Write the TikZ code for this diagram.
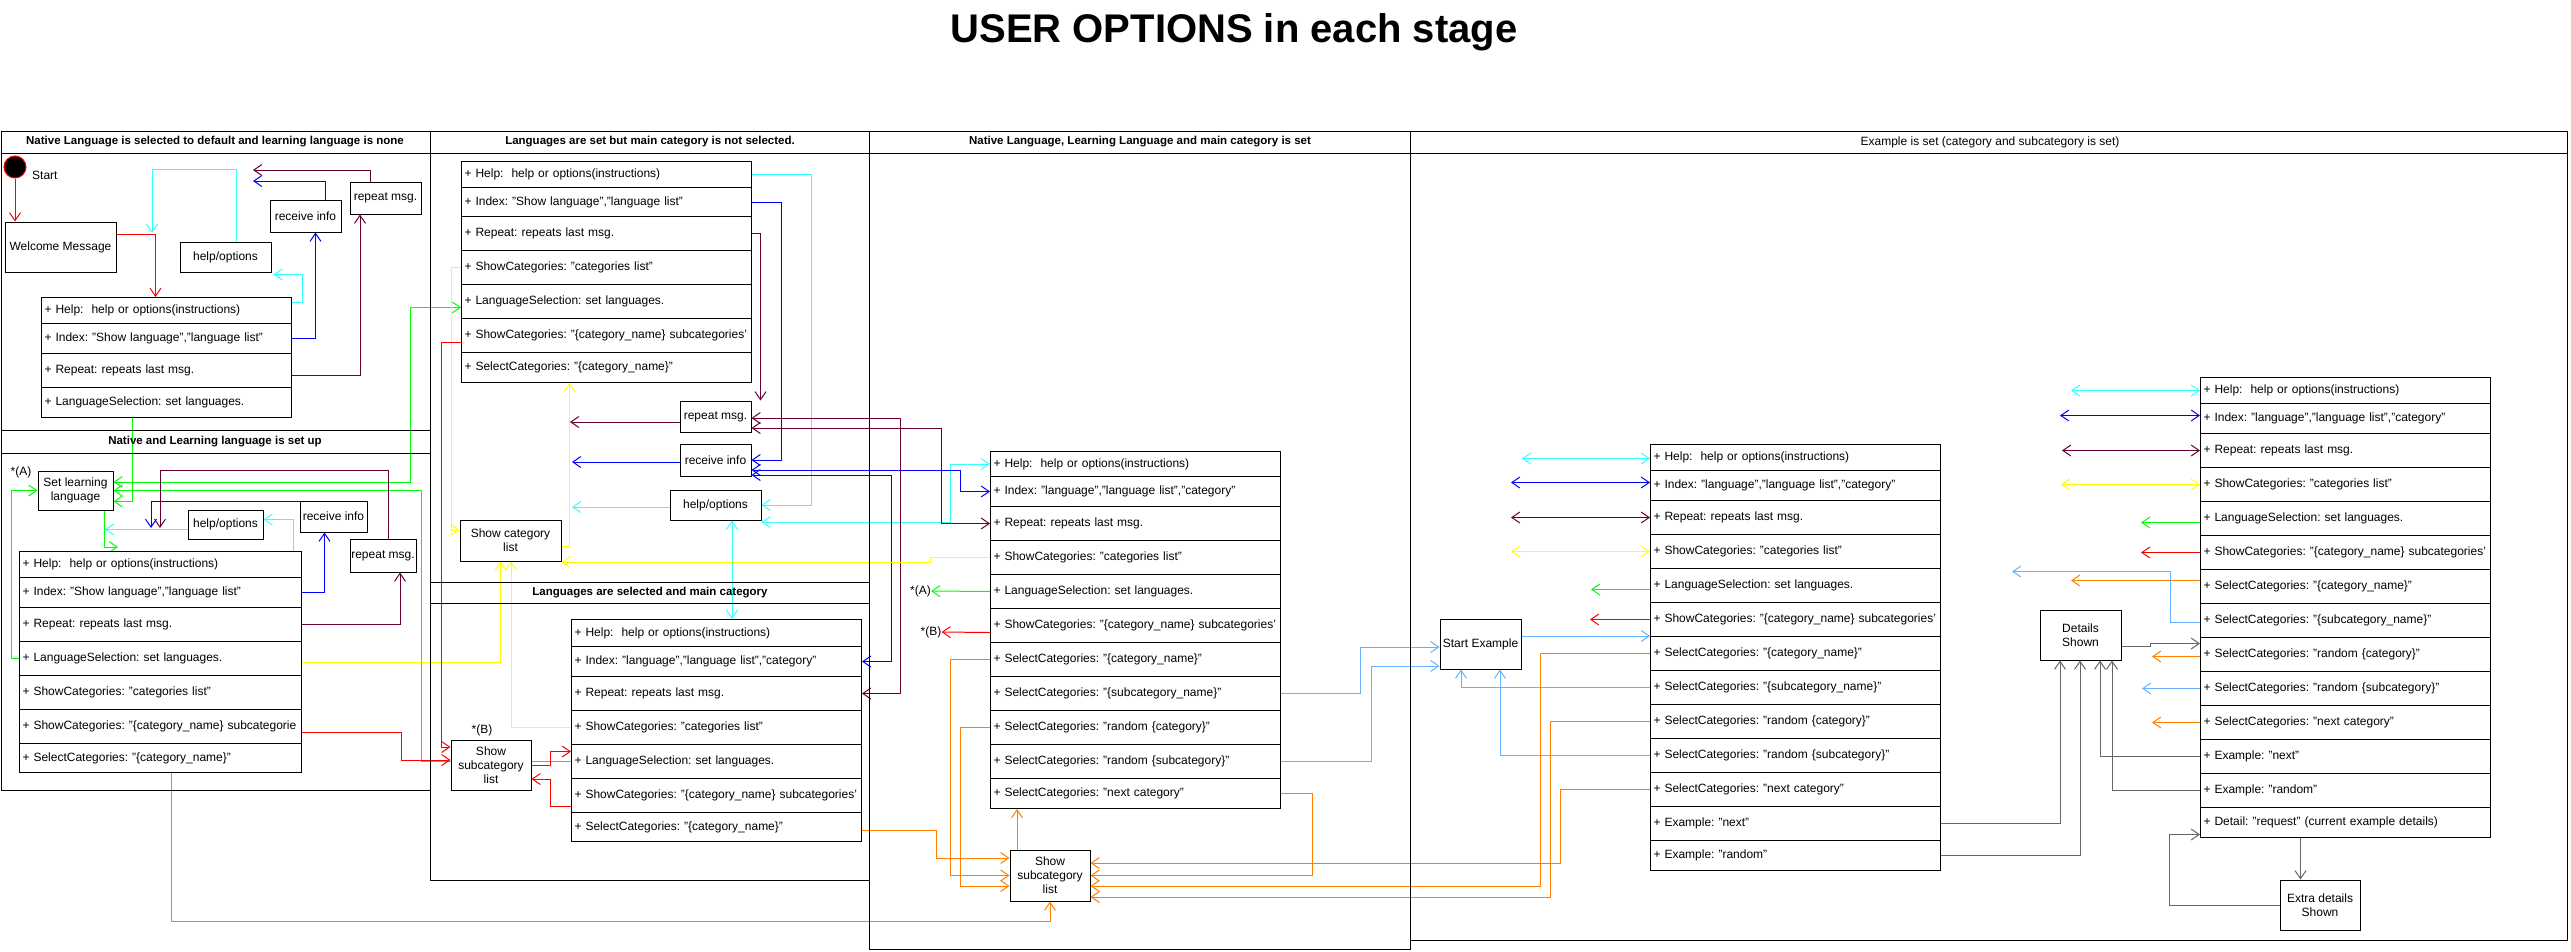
\documentclass[tikz,border=0pt]{standalone}
\usepackage{fontspec}
\setmainfont{Liberation Sans}
\usetikzlibrary{arrows.meta}
\definecolor{helpcolor}{HTML}{33FFFF}
\definecolor{indexcolor}{HTML}{0000FF}
\definecolor{repeatcolor}{HTML}{660033}
\definecolor{showcolor}{HTML}{FFFF00}
\definecolor{langcolor}{HTML}{00FF00}
\definecolor{subcolor}{HTML}{FF0000}
\definecolor{selectcolor}{HTML}{FF8000}
\definecolor{examplecolor}{HTML}{66B2FF}
\definecolor{detailcolor}{HTML}{666666}
\newcommand{\rowfont}{\fontsize{12}{14}\selectfont}
\newcommand{\headfont}{\fontsize{11.5}{13}\selectfont\bfseries}
\pgfdeclarelayer{wires}
\pgfsetlayers{wires,main}
\tikzset{
  stage/.style={draw, line width=1pt},
  head/.style={font=\headfont, inner sep=0pt},
  row/.style={draw, fill=white, line width=1pt, anchor=north west, inner xsep=3pt, inner ysep=0pt,
    text width=284pt, minimum height=34pt, align=left, font=\rowfont,
    execute at begin node={\hyphenpenalty=10000\relax}},
  state/.style={draw, fill=white, line width=1pt, inner sep=0.5pt, align=center, font=\rowfont},
  refmark/.style={font=\rowfont, inner sep=0pt},
  wire/.style={line width=1pt},
  flowwire/.style={wire, draw=subcolor},
  helpwire/.style={wire, draw=helpcolor},
  indexwire/.style={wire, draw=indexcolor},
  repeatwire/.style={wire, draw=repeatcolor},
  showwire/.style={wire, draw=showcolor},
  langwire/.style={wire, draw=langcolor},
  subwire/.style={wire, draw=subcolor},
  selectwire/.style={wire, draw=selectcolor},
  examplewire/.style={wire, draw=examplecolor},
  detailwire/.style={wire, draw=detailcolor}
}
\begin{document}
\frenchspacing
\begin{tikzpicture}[x=1pt, y=-1pt, >={Straight Barb[length=8pt,width=11pt]}]
\useasboundingbox (0,0) rectangle (2571,951);
\path (1234,42) node[anchor=base, font=\fontsize{40}{48}\selectfont\bfseries] (title) {USER OPTIONS in each stage};

\draw[stage] (1,131) rectangle (430,790);
\draw[stage] (1,153) -- (430,153);
\draw[stage] (1,430) -- (430,430);
\draw[stage] (1,453) -- (430,453);
\draw[stage] (430,131) rectangle (869,880);
\draw[stage] (430,153) -- (869,153);
\draw[stage] (430,582) -- (869,582);
\draw[stage] (430,603) -- (869,603);
\draw[stage] (869,131) rectangle (1410,949);
\draw[stage] (869,153) -- (1410,153);
\draw[stage] (1410,131) rectangle (2567,940);
\draw[stage] (1410,153) -- (2567,153);
\path (215,142) node[head] (hnone) {Native Language is selected to default and learning language is none};
\path (215,442) node[head] (hsetup) {Native and Learning language is set up};
\path (650,142) node[head] (hlang) {Languages are set but main category is not selected.};
\path (650,593) node[head] (hmain) {Languages are selected and main category};
\path (1140,142) node[head] (hcat) {Native Language, Learning Language and main category is set};
\path (1990,142) node[head, font=\rowfont] (hexample) {Example is set (category and subcategory is set)};

\path (15,167) node[circle, draw=subcolor, fill=black, line width=1pt, minimum size=22pt, inner sep=0pt] (start) {};
\path (32,175) node[refmark, anchor=west] (startlabel) {Start};
\path (60.5,247) node[state, minimum width=111pt, minimum height=50pt] (welcome) {Welcome Message};
\path (225.5,257) node[state, minimum width=91pt, minimum height=30pt] (nhop) {help/options};
\path (305.5,216) node[state, minimum width=71pt, minimum height=32pt] (ninfo) {receive info};
\path (385.5,198) node[state, minimum width=71pt, minimum height=32pt] (nrep) {repeat msg.};
\path (41,297) node[row, text width=244pt, minimum height=26pt] (nhelp) {+ Help:~ help or options(instructions)};
\path (41,323) node[row, text width=244pt, minimum height=30pt] (nindex) {+ Index: "Show language","language list"};
\path (41,353) node[row, text width=244pt] (nrepeat) {+ Repeat: repeats last msg.};
\path (41,387) node[row, text width=244pt, minimum height=30pt] (nlang) {+ LanguageSelection: set languages.};

\path (21,472) node[refmark] (marka) {*(A)};
\path (75.5,490.5) node[state, minimum width=75pt, minimum height=39pt] (setlang) {Set learning\\language};
\path (225.5,524.5) node[state, minimum width=75pt, minimum height=29pt] (uhop) {help/options};
\path (333.5,516.5) node[state, minimum width=67pt, minimum height=31pt] (uinfo) {receive info};
\path (383,555.5) node[state, minimum width=66pt, minimum height=33pt] (urep) {repeat msg.};
\path (19,551) node[row, text width=276pt, minimum height=26pt] (uhelp) {+ Help:~ help or options(instructions)};
\path (19,577) node[row, text width=276pt, minimum height=30pt] (uindex) {+ Index: "Show language","language list"};
\path (19,607) node[row, text width=276pt] (urepeat) {+ Repeat: repeats last msg.};
\path (19,641) node[row, text width=276pt] (ulang) {+ LanguageSelection: set languages.};
\path (19,675) node[row, text width=276pt] (ushow) {+ ShowCategories: "categories list"};
\path (19,709) node[row, text width=276pt] (usub) {+ ShowCategories: "\{category\_name\} subcategorie};
\path (19,743) node[row, text width=276pt, minimum height=29pt] (uselect) {+ SelectCategories: "\{category\_name\}"};

\path (461,161) node[row, minimum height=26pt] (lhelp) {+ Help:~ help or options(instructions)};
\path (461,187) node[row, minimum height=29pt] (lindex) {+ Index: "Show language","language list"};
\path (461,216) node[row] (lrepeat) {+ Repeat: repeats last msg.};
\path (461,250) node[row] (lshow) {+ ShowCategories: "categories list"};
\path (461,284) node[row] (llang) {+ LanguageSelection: set languages.};
\path (461,318) node[row] (lsub) {+ ShowCategories: "\{category\_name\} subcategories'};
\path (461,352) node[row, minimum height=30pt] (lselect) {+ SelectCategories: "\{category\_name\}"};
\path (715.5,416.5) node[state, minimum width=71pt, minimum height=31pt] (lrep) {repeat msg.};
\path (715.5,460) node[state, minimum width=71pt, minimum height=32pt] (linfo) {receive info};
\path (715.5,505) node[state, minimum width=91pt, minimum height=30pt] (lhop) {help/options};
\path (510.5,540.5) node[state, minimum width=101pt, minimum height=41pt] (catlist) {Show category\\list};

\path (482,730) node[refmark] (markb) {*(B)};
\path (491,765) node[state, minimum width=80pt, minimum height=50pt] (msublist) {Show\\subcategory\\list};
\path (571,619) node[row, minimum height=27pt] (mhelp) {+ Help:~ help or options(instructions)};
\path (571,646) node[row, minimum height=30pt] (mindex) {+ Index: "language","language list","category"};
\path (571,676) node[row] (mrepeat) {+ Repeat: repeats last msg.};
\path (571,710) node[row] (mshow) {+ ShowCategories: "categories list"};
\path (571,744) node[row] (mlang) {+ LanguageSelection: set languages.};
\path (571,778) node[row] (msub) {+ ShowCategories: "\{category\_name\} subcategories'};
\path (571,812) node[row, minimum height=29pt] (mselect) {+ SelectCategories: "\{category\_name\}"};

\path (990,451) node[row, minimum height=25pt] (chelp) {+ Help:~ help or options(instructions)};
\path (990,476) node[row, minimum height=30pt] (cindex) {+ Index: "language","language list","category"};
\path (990,506) node[row] (crepeat) {+ Repeat: repeats last msg.};
\path (990,540) node[row] (cshow) {+ ShowCategories: "categories list"};
\path (990,574) node[row] (clang) {+ LanguageSelection: set languages.};
\path (990,608) node[row] (csub) {+ ShowCategories: "\{category\_name\} subcategories'};
\path (990,642) node[row] (cselcat) {+ SelectCategories: "\{category\_name\}"};
\path (990,676) node[row] (cselsub) {+ SelectCategories: "\{subcategory\_name\}"};
\path (990,710) node[row] (crandcat) {+ SelectCategories: "random \{category\}"};
\path (990,744) node[row] (crandsub) {+ SelectCategories: "random \{subcategory\}"};
\path (990,778) node[row, minimum height=30pt] (cnext) {+ SelectCategories: "next category"};
\path (920.5,591) node[refmark] (refa) {*(A)};
\path (931,632) node[refmark] (refb) {*(B)};
\path (1050,875.5) node[state, minimum width=80pt, minimum height=51pt] (csublist) {Show\\subcategory\\list};

\path (1480.5,644) node[state, minimum width=81pt, minimum height=50pt] (exstart) {Start Example};
\path (1650,444) node[row, minimum height=26pt] (ehelp) {+ Help:~ help or options(instructions)};
\path (1650,470) node[row, minimum height=30pt] (eindex) {+ Index: "language","language list","category"};
\path (1650,500) node[row] (erepeat) {+ Repeat: repeats last msg.};
\path (1650,534) node[row] (eshow) {+ ShowCategories: "categories list"};
\path (1650,568) node[row] (elang) {+ LanguageSelection: set languages.};
\path (1650,602) node[row] (esub) {+ ShowCategories: "\{category\_name\} subcategories'};
\path (1650,636) node[row] (eselcat) {+ SelectCategories: "\{category\_name\}"};
\path (1650,670) node[row] (eselsub) {+ SelectCategories: "\{subcategory\_name\}"};
\path (1650,704) node[row] (erandcat) {+ SelectCategories: "random \{category\}"};
\path (1650,738) node[row] (erandsub) {+ SelectCategories: "random \{subcategory\}"};
\path (1650,772) node[row] (enextcat) {+ SelectCategories: "next category"};
\path (1650,806) node[row] (eexnext) {+ Example: "next"};
\path (1650,840) node[row, minimum height=30pt] (eexrand) {+ Example: "random"};

\path (2080.5,635) node[state, minimum width=81pt, minimum height=50pt] (details) {Details\\Shown};
\path (2320,905) node[state, minimum width=80pt, minimum height=50pt] (extra) {Extra details\\Shown};
\path (2200,377) node[row, minimum height=26pt] (dhelp) {+ Help:~ help or options(instructions)};
\path (2200,403) node[row, minimum height=30pt] (dindex) {+ Index: "language","language list","category"};
\path (2200,433) node[row] (drepeat) {+ Repeat: repeats last msg.};
\path (2200,467) node[row] (dshow) {+ ShowCategories: "categories list"};
\path (2200,501) node[row] (dlang) {+ LanguageSelection: set languages.};
\path (2200,535) node[row] (dsub) {+ ShowCategories: "\{category\_name\} subcategories'};
\path (2200,569) node[row] (dselcat) {+ SelectCategories: "\{category\_name\}"};
\path (2200,603) node[row] (dselsub) {+ SelectCategories: "\{subcategory\_name\}"};
\path (2200,637) node[row] (drandcat) {+ SelectCategories: "random \{category\}"};
\path (2200,671) node[row] (drandsub) {+ SelectCategories: "random \{subcategory\}"};
\path (2200,705) node[row] (dnextcat) {+ SelectCategories: "next category"};
\path (2200,739) node[row] (dexnext) {+ Example: "next"};
\path (2200,773) node[row] (dexrand) {+ Example: "random"};
\path (2200,807) node[row, minimum height=30pt] (ddetail) {+ Detail: "request" (current example details)};

\coordinate (nhelpin) at (152,233);
\coordinate (nrepin) at (253,170);
\coordinate (ninfoin) at (253,181);
\coordinate (ulangin) at (118,547);
\coordinate (uhelpin) at (105,529.5);
\coordinate (uinfoin) at (151,528);
\coordinate (urepin) at (160,528);
\coordinate (lrepout) at (570,422);
\coordinate (linfoout) at (572,462);
\coordinate (lhopout) at (572,507);

\begin{pgfonlayer}{wires}
\draw[flowwire,->] (start.south) -- (start.south |- welcome.north);
\draw[flowwire,->] ([yshift=13pt]welcome.east) -| ([xshift=-11pt]nhelp.north);
\draw[helpwire,->] ([xshift=10.5pt]nhop.north) -- ++(0,-72) -| (nhelpin);
\draw[repeatwire,->] ([xshift=-15.5pt]nrep.north) |- (nrepin);
\draw[indexwire,->] ([xshift=19.5pt]ninfo.north) |- (ninfoin);
\draw[helpwire,->] ([yshift=8pt]nhelp.east) -- ++(10,0) |- ([xshift=2pt,yshift=-2pt]nhop.south east);
\draw[indexwire,->] (nindex.east) -| ([xshift=10pt]ninfo.south);
\draw[repeatwire,->] ([yshift=-5pt]nrepeat.east) -| ([xshift=-25.5pt]nrep.south);
\draw[langwire,->] ([xshift=-34pt]nlang.south) |- ([yshift=-11pt]setlang.east);

\draw[langwire,<->] ([yshift=8.5pt]setlang.east) -- ++(297,0) |- ([yshift=-6pt]llang.west);
\draw[langwire,->] (mlang.west) -- ++(-150,0) |- (setlang.east);
\draw[langwire,->] (ulang.west) -- ++(-8,0) |- (setlang.west);
\draw[langwire,->] ([xshift=28.5pt]setlang.south) |- (ulangin);
\draw[helpwire,->] ([xshift=-9pt]uhelp.north east) |- ([yshift=5pt]uhop.east);
\draw[helpwire,->] ([yshift=-5pt]uhop.west) -- (uhelpin);
\draw[indexwire,->] (uindex.east) -| ([xshift=-9pt]uinfo.south);
\draw[indexwire,->] ([yshift=-1pt]uinfo.north) -| (uinfoin);
\draw[repeatwire,->] (urepeat.east) -| ([xshift=17pt]urep.south);
\draw[repeatwire,->] ([xshift=5pt]urep.north) -- ++(0,-68) -| (urepin);
\draw[showwire,->] ([yshift=-4pt]ulang.east) -| ([xshift=-10pt]catlist.south);
\draw[subwire,->] ([yshift=-6pt]usub.east) -- ++(99,0) |- ([yshift=5pt]msublist.west);
\draw[selectwire,->] ([xshift=11pt]uselect.south) -- ++(0,148) -| (csublist.south);

\draw[helpwire,->] (lhelp.east) -- ++(59,0) |- (lhop.east);
\draw[indexwire,->] (lindex.east) -- ++(29,0) |- (linfo.east);
\draw[repeatwire,->] (lrepeat.east) -| ([xshift=9pt]lrep.north east);
\draw[repeatwire,->] ([yshift=-5.5pt]lrep.west) -- (lrepout);
\draw[indexwire,->] ([yshift=-2pt]linfo.west) -- (linfoout);
\draw[helpwire,->] ([yshift=-2pt]lhop.west) -- (lhopout);
\draw[showwire,->] ([yshift=-5.5pt]catlist.east) -| ([xshift=-37pt]lselect.south);
\draw[showwire,->] (lshow.west) -- ++(-10,0) |- ([yshift=10.5pt]catlist.west);
\draw[subwire,->] ([yshift=-7pt]lsub.west) -- ++(-20,0) |- ([yshift=18pt]msublist.west);
\draw[helpwire,<->] ([xshift=16.5pt]lhop.south) -- ([xshift=16.5pt]lhop.south |- mhelp.north);

\draw[subwire,->] (msublist.east) -- ++(19,0) |- ([yshift=10pt]mlang.west);
\draw[subwire,->] ([yshift=-11pt]msub.west) -- ++(-21,0) |- ([yshift=-14pt]msublist.east);
\draw[showwire,->] (mshow.west) -| ([xshift=0.5pt]catlist.south);
\draw[helpwire,<->] ([yshift=-17pt]lhop.east) -- ++(189,0) |- (chelp.west);
\draw[indexwire,<->] ([yshift=-10pt]linfo.east) -- ++(209,0) |- (cindex.west);
\draw[indexwire,<->] ([yshift=-15pt]linfo.east) -- ++(140,0) |- (mindex.east);
\draw[repeatwire,<->] ([yshift=-1.5pt]lrep.east) -- ++(149,0) |- (mrepeat.east);
\draw[repeatwire,<->] ([yshift=-11.5pt]lrep.east) -- ++(190,0) |- (crepeat.west);

\draw[showwire,->] (cshow.west) -- ++(-60,0) |- ([yshift=-21.5pt]catlist.east);
\draw[langwire,->] (clang.west) -- (refa.east);
\draw[subwire,->] ([yshift=-7pt]csub.west) -- (refb.east);
\draw[selectwire,->] (cselcat.west) -- ++(-40,0) |- (csublist.west);
\draw[selectwire,->] (crandcat.west) -- ++(-30,0) |- ([yshift=-10.5pt]csublist.west);
\draw[selectwire,->] ([yshift=-3.5pt]mselect.east) -- ++(74,0) |- ([yshift=17.5pt]csublist.west);
\draw[selectwire,->] ([xshift=-33pt]csublist.north) -- ([xshift=-33pt]csublist.north |- cnext.south);
\draw[selectwire,->] (cnext.east) -- ++(31,0) |- (csublist.east);
\draw[examplewire,->] (cselsub.east) -- ++(79,0) |- ([yshift=-3pt]exstart.west);
\draw[examplewire,->] (crandsub.east) -- ++(90,0) |- ([yshift=-22pt]exstart.west);

\draw[examplewire,->] (exstart.east |- eselcat.north) -- (eselcat.north west);
\draw[examplewire,->] (eselsub.west) -| ([xshift=-19.5pt]exstart.south);
\draw[examplewire,->] (erandsub.west) -| ([xshift=19.5pt]exstart.south);
\draw[selectwire,->] (eselcat.west) -- ++(-110,0) |- ([yshift=-10.5pt]csublist.east);
\draw[selectwire,->] (erandcat.west) -- ++(-100,0) |- ([yshift=-21.5pt]csublist.east);
\draw[selectwire,->] (enextcat.west) -- ++(-90,0) |- ([yshift=12.5pt]csublist.east);
\draw[helpwire,<->] ([yshift=-1pt]ehelp.west) -- ++(-128,0);
\draw[indexwire,<->] ([yshift=3pt]eindex.west) -- ++(-139,0);
\draw[repeatwire,<->] (erepeat.west) -- ++(-139,0);
\draw[showwire,<->] (eshow.west) -- ++(-139,0);
\draw[langwire,->] ([yshift=-4pt]elang.west) -- ++(-59,0);
\draw[subwire,->] (esub.west) -- ++(-60,0);

\draw[detailwire,->] (eexnext.east) -| ([xshift=-20.5pt]details.south);
\draw[detailwire,->] (eexrand.east) -| ([xshift=-0.5pt]details.south);
\draw[detailwire,->] (dexnext.west) -| ([xshift=19.5pt]details.south);
\draw[detailwire,->] (dexrand.west) -| ([xshift=31.5pt]details.south);
\draw[detailwire,->] ([yshift=-11pt]details.east) -- ++(29,0) |- ([yshift=11pt]drandcat.west);
\draw[detailwire,->] ([xshift=-45pt]ddetail.south) -- ([xshift=-45pt]ddetail.south |- extra.north);
\draw[detailwire,->] (extra.west) -- ++(-110,0) |- ([yshift=-12pt]ddetail.west);
\draw[helpwire,<->] (dhelp.west) -- ++(-129,0);
\draw[indexwire,<->] ([yshift=3pt]dindex.west) -- ++(-140,0);
\draw[repeatwire,<->] (drepeat.west) -- ++(-138,0);
\draw[showwire,<->] (dshow.west) -- ++(-139,0);
\draw[langwire,->] ([yshift=-4pt]dlang.west) -- ++(-59,0);
\draw[subwire,->] (dsub.west) -- ++(-59,0);
\draw[selectwire,->] ([yshift=6pt]dselcat.west) -- ++(-129,0);
\draw[examplewire,->] ([yshift=-2pt]dselsub.west) -- ++(-30,0) -- ++(0,-51) -- ++(-158,0);
\draw[selectwire,->] ([yshift=-2pt]drandcat.west) -- ++(-48,0);
\draw[examplewire,->] (drandsub.west) -- ++(-58,0);
\draw[selectwire,->] (dnextcat.west) -- ++(-48,0);
\end{pgfonlayer}
\end{tikzpicture}
\end{document}
